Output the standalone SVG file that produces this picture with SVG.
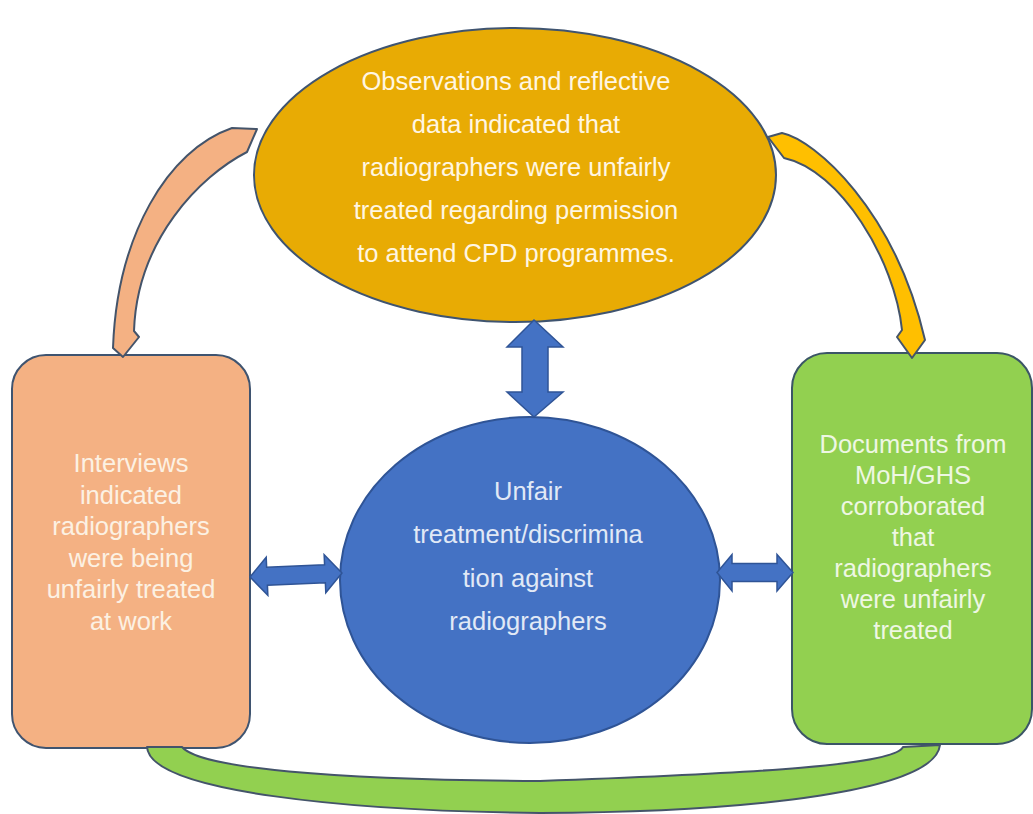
<svg xmlns="http://www.w3.org/2000/svg" width="1033" height="814" viewBox="0 0 1033 814">
<style>
  text { font-family: "Liberation Sans", Arial, sans-serif; font-size: 25.5px; text-anchor: middle; }
  .edge { stroke: #44546a; stroke-width: 2; stroke-linejoin: round; }
  .dbl { fill: #4472c4; stroke: #2f5496; stroke-width: 1.5; stroke-linejoin: miter; }
</style>
<rect width="1033" height="814" fill="#ffffff"/>

<g id="node-observations">
  <ellipse cx="515" cy="175" rx="261" ry="147" fill="#e8ab04" stroke="#3f5470" stroke-width="2"/>
  <g fill="#fff6e2">
    <text x="516" y="90">Observations and reflective</text>
    <text x="516" y="133">data indicated that</text>
    <text x="516" y="176">radiographers were unfairly</text>
    <text x="516" y="219">treated regarding permission</text>
    <text x="516" y="262">to attend CPD programmes.</text>
  </g>
</g>

<g id="node-interviews">
  <rect x="12" y="355" width="238" height="393" rx="34" fill="#f4b183" stroke="#3f5470" stroke-width="2"/>
  <g fill="#fcf1e3">
    <text x="131" y="472">Interviews</text>
    <text x="131" y="503.5">indicated</text>
    <text x="131" y="535">radiographers</text>
    <text x="131" y="566.5">were being</text>
    <text x="131" y="598">unfairly treated</text>
    <text x="131" y="629.5">at work</text>
  </g>
</g>

<g id="node-documents">
  <rect x="792" y="353" width="240" height="391" rx="35" fill="#92d050" stroke="#3b5566" stroke-width="2"/>
  <g fill="#eef7e3">
    <text x="913" y="453">Documents from</text>
    <text x="913" y="484">MoH/GHS</text>
    <text x="913" y="515">corroborated</text>
    <text x="913" y="546">that</text>
    <text x="913" y="577">radiographers</text>
    <text x="913" y="608">were unfairly</text>
    <text x="913" y="639">treated</text>
  </g>
</g>

<g id="node-unfair">
  <ellipse cx="530" cy="580" rx="190" ry="163" fill="#4472c4" stroke="#2f5496" stroke-width="2"/>
  <g fill="#e1e9f6">
    <text x="528" y="500">Unfair</text>
    <text x="528" y="543">treatment/discrimina</text>
    <text x="528" y="587">tion against</text>
    <text x="528" y="630">radiographers</text>
  </g>
</g>

<g id="connectors">
  <path class="edge" fill="#f4b183" d="M232,128 L257,129 L247,152 C200,176 137,240 134,331 L139,337 L123,357 L113,348 C117,235 168,150 232,128 Z"/>
  <path class="edge" fill="#ffbf00" d="M768,137 L782,133 C815,140 895,210 925,340 L912,358 L897,337 L902,330 C895,260 840,170 784,158 Z"/>
  <path class="edge" fill="#92d050" stroke="#3b5566" d="M147,747 C150,792 350,811 540,813 C760,812 935,790 940,745 L903,747 C895,765 760,773 540,781 C330,780 200,768 182,747 Z"/>
  <polygon class="dbl" points="534,320 563,347 548,347 548,392 563,392 534,417 507,392 522,392 522,347 507,347"/>
  <polygon class="dbl" transform="rotate(-2.5 296 575)" points="250,575 267,556 267,566 325,566 325,556 342,575 325,594 325,584 267,584 267,594"/>
  <polygon class="dbl" points="717,572.5 732,554.5 732,563.5 777,563.5 777,554.5 793,572.5 777,591 777,581.5 732,581.5 732,591"/>
</g>
</svg>
